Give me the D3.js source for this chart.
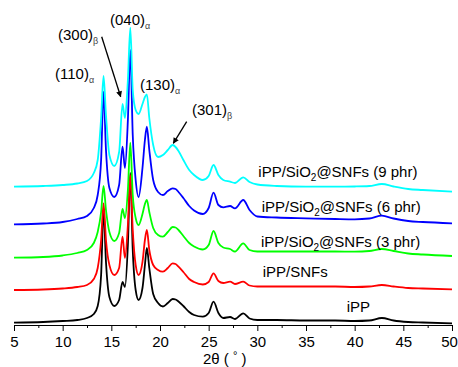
<!DOCTYPE html>
<html><head><meta charset="utf-8">
<script src="https://cdn.jsdelivr.net/npm/d3@7"></script>
<style>
html,body{margin:0;padding:0;background:#fff;}
svg{display:block;font-family:"Liberation Sans",Arial,sans-serif;}
</style></head>
<body>
<svg id="chart" width="458" height="367"></svg>
<script>
// 2θ positions (degrees)
const twoTheta = [5, 8, 10, 11.5, 12.5, 13.2, 13.6, 13.95, 14.2, 14.45, 14.8, 15.3, 15.8, 16.15, 16.4, 16.7, 16.95, 17.2, 17.5, 17.8, 18.2, 18.45, 18.65, 18.9, 19.3, 19.8, 20.3, 20.8, 21.3, 21.6, 21.9, 22.4, 23.0, 23.5, 24.4, 25.0, 25.5, 26.0, 26.5, 27.2, 27.7, 28.55, 29.2, 30, 32, 35, 38, 40, 41.5, 42.8, 44, 45.5, 47, 50];

// Intensities (a.u., vertically offset as plotted)
const iPP = [2.3, 3, 4, 5, 7, 11, 19, 50, 115, 63, 28, 19, 25, 43, 38, 80, 152, 75, 35, 25, 37, 60, 77, 57, 31, 22, 18.5, 22, 26, 25.5, 23.5, 19, 13, 10, 8.3, 12, 23.3, 12, 7, 8, 6, 11.7, 6.5, 5, 5, 4.5, 4.5, 4, 4.5, 7, 4.5, 3, 2.5, 1.7];
const iPP_SNFs = [35, 35.5, 36.5, 38, 40, 46, 57, 85, 121.7, 85, 60, 50, 57, 88.3, 67, 100, 150, 95, 60, 50, 63, 85, 95, 75, 60, 55, 53.3, 57, 61.7, 61, 58.3, 53, 46, 43, 40.5, 43, 51.7, 44, 42, 43.3, 41, 43.3, 39.5, 38.5, 38.5, 38.5, 38.5, 38, 38.5, 40, 38.5, 37, 36.5, 35.7];
const iPP_SiO2_3 = [67.3, 68, 69.5, 72, 75, 82, 93, 113, 139, 115, 93, 84, 92, 116, 107, 135, 182.3, 130, 107, 100, 111, 121, 125, 113, 97, 90, 88.3, 93, 98, 97.5, 95, 89, 82, 78.5, 75.5, 80, 94, 82, 77.5, 76, 73.5, 81.7, 75, 73.5, 73.5, 73.5, 73.5, 73.3, 74, 76, 74, 71.5, 70.5, 69];
const iPP_SiO2_6 = [100.7, 101.5, 103, 106, 109, 117, 130, 165, 233.3, 175, 137, 128, 140, 178.3, 157, 205, 275, 190, 145, 128, 157, 185, 198.3, 175, 145, 133, 130, 134, 136.7, 136, 133, 127, 119, 114.5, 111, 117, 132.3, 120, 117.7, 119, 116.7, 125, 115, 108.5, 107.5, 106.7, 106, 105.7, 106.5, 109.3, 106.5, 104, 103, 101.7];
const iPP_SiO2_9 = [138.3, 139, 140, 141.5, 144, 152, 165, 207, 249, 210, 170, 159, 173, 221, 207, 245, 297.3, 235, 215, 211, 221, 228, 230.7, 207, 180, 168, 170, 175, 180, 178, 174, 165, 155, 150, 145, 149, 160, 150, 145, 143.3, 142, 147.7, 143, 140.5, 139, 138.3, 138.3, 138.5, 139, 141, 138.5, 136, 135, 133.3];

const seriesNames = ["iPP", "iPP/SNFs", "iPP/SiO2@SNFs (3 phr)", "iPP/SiO2@SNFs (6 phr)", "iPP/SiO2@SNFs (9 phr)"];
const seriesColors = ["#000000", "#ff0000", "#00ff00", "#0000ff", "#00ffff"];
const seriesValues = [iPP, iPP_SNFs, iPP_SiO2_3, iPP_SiO2_6, iPP_SiO2_9];

// label anchor positions [2θ, intensity]
const seriesLabelPos = [[39.18, 13.3], [30.55, 48.3], [30.38, 78.3], [30.45, 113.3], [30.1, 148.3]];

const peakLabels = [
  {plane: "(110)", phase: "α", x: 9.21, y: 246},
  {plane: "(300)", phase: "β", x: 9.52, y: 285},
  {plane: "(040)", phase: "α", x: 14.86, y: 300},
  {plane: "(130)", phase: "α", x: 17.95, y: 235},
  {plane: "(301)", phase: "β", x: 23.29, y: 210}
];
const arrows = [
  {x1: 14.01, y1: 288.3, x2: 15.96, y2: 228.3},
  {x1: 22.74, y1: 203.3, x2: 21.37, y2: 181.7}
];

const xTicks = [5, 10, 15, 20, 25, 30, 35, 40, 45, 50];
const xMinorTicks = [7.5, 12.5, 17.5, 22.5, 27.5, 32.5, 37.5, 42.5, 47.5];

const svg = d3.select("#chart");
const x = d3.scaleLinear().domain([5, 50]).range([14, 452]);
const y = d3.scaleLinear().domain([0, 300]).range([325, 25]);

svg.append("defs").append("marker")
  .attr("id", "arrowhead").attr("viewBox", "0 0 10 10")
  .attr("refX", 9).attr("refY", 5)
  .attr("markerWidth", 7).attr("markerHeight", 6)
  .attr("markerUnits", "userSpaceOnUse")
  .attr("orient", "auto")
  .append("path").attr("d", "M0,0 L10,5 L0,10 Z").attr("fill", "#000");

const line = d3.line()
  .x(d => x(d[0])).y(d => y(d[1]))
  .curve(d3.curveMonotoneX);

seriesValues.forEach((vals, i) => {
  const pts = twoTheta.map((t, k) => [t, vals[k]]);
  svg.append("path")
    .attr("d", line(pts))
    .attr("fill", "none")
    .attr("stroke", seriesColors[i])
    .attr("stroke-width", 1.8)
    .attr("stroke-linejoin", "round");
});

// axis
const axis = d3.axisBottom(x).tickValues(xTicks).tickSize(6).tickSizeOuter(0).tickPadding(5);
const gAx = svg.append("g").attr("transform", `translate(0,${y(0)})`).call(axis);
gAx.selectAll("text").attr("font-size", 15).attr("font-family", '"Liberation Sans",Arial,sans-serif').attr("fill", "#000");
gAx.selectAll("text").filter(d => d === 50).attr("dx", -3);
gAx.select(".domain").attr("stroke", "#000");
const axisMinor = d3.axisBottom(x).tickValues(xMinorTicks).tickSize(3).tickSizeOuter(0).tickFormat("");
const gMin = svg.append("g").attr("transform", `translate(0,${y(0)})`).call(axisMinor);
gMin.select(".domain").remove();

// axis title
const title = svg.append("text").attr("x", 203).attr("y", 364).attr("font-size", 15).attr("fill", "#000");
title.append("tspan").text("2θ ( ");
title.append("tspan").attr("font-size", 11).attr("dy", -5).text("°");
title.append("tspan").attr("dy", 5).text(" )");

// series labels
seriesNames.forEach((name, i) => {
  const t = svg.append("text")
    .attr("x", x(seriesLabelPos[i][0])).attr("y", y(seriesLabelPos[i][1]))
    .attr("font-size", 15).attr("fill", "#000");
  const m = name.match(/^(.*SiO)2(.*)$/);
  if (m) {
    t.append("tspan").text(m[1]);
    t.append("tspan").attr("font-size", 10).attr("dy", 4).text("2");
    t.append("tspan").attr("dy", -4).text(m[2]);
  } else {
    t.text(name);
  }
});

// peak labels
peakLabels.forEach(p => {
  const t = svg.append("text").attr("x", x(p.x)).attr("y", y(p.y)).attr("font-size", 15).attr("fill", "#000");
  t.append("tspan").text(p.plane);
  t.append("tspan").attr("font-size", 9).attr("dy", 4).attr("fill", "#444").text(p.phase);
});

// arrows
arrows.forEach(a => {
  svg.append("line")
    .attr("x1", x(a.x1)).attr("y1", y(a.y1))
    .attr("x2", x(a.x2)).attr("y2", y(a.y2))
    .attr("stroke", "#000").attr("stroke-width", 1.3)
    .attr("marker-end", "url(#arrowhead)");
});
</script>
</body></html>
